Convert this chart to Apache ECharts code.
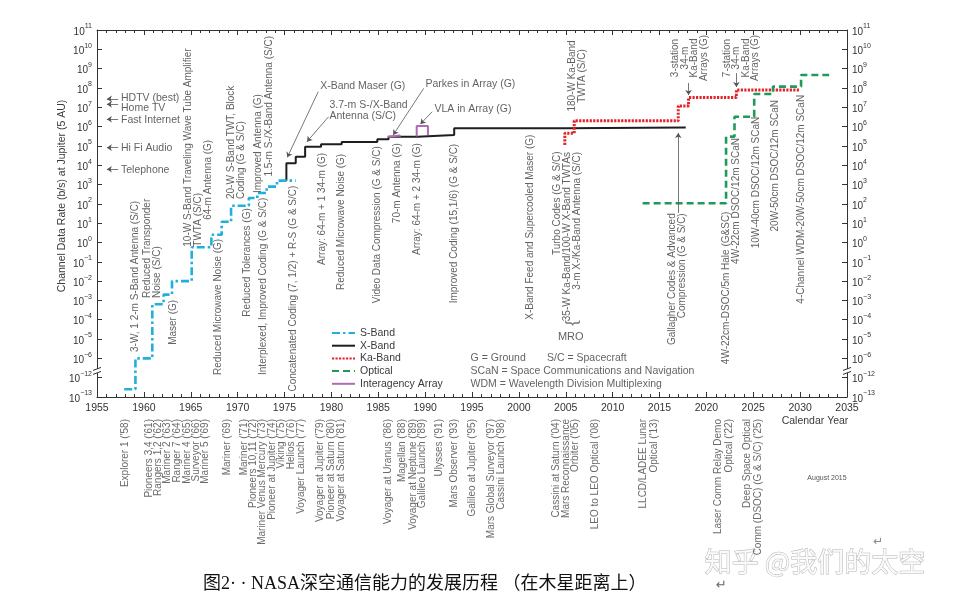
<!DOCTYPE html>
<html><head><meta charset="utf-8">
<script src="https://cdn.jsdelivr.net/npm/echarts@6/dist/echarts.min.js"></script>
<style>html,body{margin:0;padding:0;background:#fff;}#c{width:956px;height:601px;}</style>
</head><body><div id="c"></div>
<script>
// ---------- data (years, log10 of channel data rate in b/s) ----------
const sBandYears = [1957.9, 1959.1, 1960.9, 1962.1, 1963.0, 1965.1, 1967.2, 1968.3, 1969.3, 1971.2, 1972.1, 1973.1, 1974.2, 1976.2];
const sBandLog   = [-12.6, -6.0, -3.2, -2.7, -2.0, -0.25, 0.4, 1.07, 1.9, 2.3, 2.56, 2.89, 3.2, 3.2];
const xBandYears = [1975.2, 1975.2, 1976.2, 1977.2, 1978.9, 1981.1, 1984.9, 1986.1, 1989.2, 1993.1, 2005.0, 2017.8];
const xBandLog   = [3.2, 4.1, 4.44, 4.96, 5.08, 5.2, 5.35, 5.47, 5.56, 5.91, 5.95, 5.95];
const kaBandYears = [2004.9, 2004.9, 2005.9, 2017.0, 2018.1, 2023.2, 2029.9];
const kaBandLog   = [5.05, 5.65, 6.3, 7.07, 7.5, 7.9, 7.9];
const opticalYears = [2013.2, 2022.1, 2023.0, 2025.1, 2027.1, 2030.1, 2033.1];
const opticalLog   = [2.03, 5.48, 6.51, 7.69, 8.07, 8.67, 8.67];
const parkesYears = [1986.0, 1986.0, 1987.3, 1987.3];
const parkesLog   = [5.47, 5.54, 5.54, 5.47];
const vlaYears = [1989.1, 1989.1, 1990.3, 1990.3];
const vlaLog   = [5.49, 6.03, 6.03, 5.56];

const legendNames = ['S-Band', 'X-Band', 'Ka-Band', 'Optical', 'Interagency Array'];

// annotation texts with anchor (year, axis position)
const notesUp = [
  ['3-W, 1 2-m S-Band Antenna (S/C)', 1959.06, -5.67],
  ['Reduced Transponder\nNoise (S/C)', 1960.84, -2.87],
  ['Maser (G)', 1963.15, -5.30],
  ['10-W S-Band Traveling Wave Tube Amplifier\nTWTA (S/C)', 1965.29, -0.22],
  ['64-m Antenna (G)', 1966.9, 1.17],
  ['Reduced Microwave Noise (G)', 1967.96, -6.86],
  ['20-W S-Band TWT, Block\nCoding (G & S/C)', 1969.9, 2.25],
  ['Reduced Tolerances (G)', 1971.0, -3.84],
  ['Improved Antenna (G)', 1972.2, 2.56],
  ['Interplexed, Improved Coding (G & S/C)', 1972.77, -6.86],
  ['1.5-m S-/X-Band Antenna (S/C)', 1973.4, 3.41],
  ['Concatenated Coding (7, 1/2) + R-S (G & S/C)', 1975.97, -7.72],
  ['Array: 64-m + 1 34-m (G)', 1979.0, -1.16],
  ['Reduced Microwave Noise (G)', 1981.0, -2.46],
  ['Video Data Compression (G & S/C)', 1984.88, -3.15],
  ['70-m Antenna (G)', 1987.0, 1.0],
  ['Array: 64-m + 2 34-m (G)', 1989.15, -0.65],
  ['Improved Coding (15,1/6) (G & S/C)', 1993.06, -3.15],
  ['X-Band Feed and Supercooled Maser (G)', 2001.26, -4.0],
  ['Turbo Codes (G & S/C)', 2004.04, -0.65]
];
const notesDown = [
  ['35-W Ka-Band/100-W X-Band TWTAs\n3-m X-/Ka-Band Antenna (S/C)', 2005.7, 4.69],
  ['Gallagher Codes & Advanced\nCompression (G & S/C)', 2016.9, 1.51],
  ['4W-22cm-DSOC/5m Hale (G&SC)', 2022.1, 1.6],
  ['4W-22cm DSOC/12m SCaN', 2023.2, 5.41],
  ['10W-40cm DSOC/12m SCaN', 2025.3, 6.51],
  ['20W-50cm DSOC/12m SCaN', 2027.3, 7.38],
  ['4-Channel WDM-20W-50cm DSOC/12m SCaN', 2030.1, 7.64]
];
const notesMid = [
  ['180-W Ka-Band\nTWTA (S/C)', 2006.25, 8.62],
  ['3-station\n34-m\nKa-Band\nArrays (G)', 2018.2, 9.55],
  ['7-station\n34-m\nKa-Band\nArrays (G)', 2023.7, 9.55]
];
const notesFlat = [
  ['X-Band Maser (G)', 1978.8, 8.07],
  ['3.7-m S-/X-Band\nAntenna (S/C)', 1979.8, 6.81],
  ['Parkes in Array (G)', 1990.04, 8.19],
  ['VLA in Array (G)', 1991.0, 6.91],
  ['G = Ground', 1994.85, -6.01],
  ['S/C = Spacecraft', 2003.0, -6.01],
  ['SCaN = Space Communications and Navigation', 1994.85, -6.67],
  ['WDM = Wavelength Division Multiplexing', 1994.85, -7.32],
  ['HDTV (best)', 1957.56, 7.48],
  ['Home TV', 1957.56, 6.95],
  ['Fast Internet', 1957.56, 6.31],
  ['Hi Fi Audio', 1957.56, 4.88],
  ['Telephone', 1957.56, 3.75]
];
const leaders = [
  [[1978.6, 7.81], [1975.3, 4.41]],
  [[1979.7, 6.51], [1977.4, 5.22]],
  [[1989.85, 7.98], [1986.6, 5.57]],
  [[1990.75, 6.77], [1989.5, 6.13]],
  [[2018.1, 8.26], [2018.1, 7.64]],
  [[2023.2, 8.77], [2023.2, 8.05]],
  [[2017.0, 1.53], [2017.0, 5.67]],
  [[1957.25, 7.43], [1956.05, 7.43]],
  [[1957.25, 7.15], [1956.05, 7.15]],
  [[1957.25, 6.38], [1956.05, 6.38]],
  [[1957.25, 4.91], [1956.05, 4.91]],
  [[1957.25, 3.79], [1956.05, 3.79]]
];
const missions = [
  ["Explorer 1 ('58)", 1958.0], ["Pioneers 3,4 ('61)", 1960.6], ["Rangers 1,2 ('62)", 1961.55],
  ["Mariner 2 ('63)", 1962.5], ["Ranger 7 ('64)", 1963.55], ["Mariner 4 ('65)", 1964.6],
  ["Surveyor ('66)", 1965.55], ["Mariner 5 ('69)", 1966.5], ["Mariner ('69)", 1968.85],
  ["Mariner ('71)", 1970.7], ["Pioneers 10,11 ('72)", 1971.7], ["Mariner Venus Mercury ('73)", 1972.65],
  ["Pioneer at Jupiter ('74)", 1973.65], ["Viking ('75)", 1974.7], ["Helios ('76)", 1975.7],
  ["Voyager Launch ('77)", 1976.75], ["Voyager at Jupiter ('79)", 1978.8], ["Pioneer at Saturn ('80)", 1979.95],
  ["Voyager at Saturn ('81)", 1981.0], ["Voyager at Uranus ('86)", 1986.1], ["Magellan ('88)", 1987.6],
  ["Voyager at Neptune ('89)", 1988.7], ["Galileo Launch ('89)", 1989.7], ["Ulysses ('91)", 1991.55],
  ["Mars Observer ('93)", 1993.15], ["Galileo at Jupiter ('95)", 1995.0], ["Mars Global Surveyor ('97)", 1997.1],
  ["Cassini Launch ('98)", 1998.15], ["Cassini at Saturn ('04)", 2003.95], ["Mars Reconnaissance", 2005.0],
  ["Orbiter ('05)", 2006.05], ["LEO to LEO Optical ('08)", 2008.15], ["LLCD/LADEE Lunar", 2013.3],
  ["Optical ('13)", 2014.45], ["Laser Comm Relay Demo", 2021.3], ["Optical ('22)", 2022.45],
  ["Deep Space Optical", 2024.35], ["Comm (DSOC) (G & S/C) ('25)", 2025.5]
];

// ---------- helpers ----------
const FONT = '"Liberation Sans", Arial, Helvetica, sans-serif';
const TXT = '#3a3a3a';
// broken axis: 10^-12 and 10^-13 sit directly below 10^-6
function ax(e) { return e <= -12 ? e + 5 : e; }
function unAx(v) { return v <= -7 ? v - 5 : v; }
function pts(years, logs) { return years.map((y, i) => [y, ax(logs[i])]); }
function expLabel(v) {
  const e = Math.round(unAx(v));
  return '{b|10}{s|' + (e < 0 ? '\u2212' + (-e) : e) + '}';
}
const richExp = {
  b: { fontSize: 10, fontFamily: FONT, color: '#333', lineHeight: 14, verticalAlign: 'bottom' },
  s: { fontSize: 7, fontFamily: FONT, color: '#333', lineHeight: 6, verticalAlign: 'top' }
};
function noteSeries(list, label) {
  return {
    type: 'scatter', xAxisIndex: 0, yAxisIndex: 0, symbolSize: 1, silent: true, clip: false, z: 6,
    itemStyle: { color: 'transparent' }, emphasis: { disabled: true },
    data: list.map(n => ({ name: n[0], value: [n[1], n[2]] })),
    label: Object.assign({ show: true, position: 'inside', formatter: p => p.name,
      fontFamily: FONT, fontSize: 10, color: TXT, lineHeight: 10 }, label)
  };
}

const axisCommon = {
  type: 'value', min: 1955, max: 2035, interval: 5,
  axisLine: { show: true, onZero: false, lineStyle: { color: '#333', width: 1 } },
  axisTick: { show: true, inside: true, length: 5, lineStyle: { color: '#333' } },
  minorTick: { show: true, splitNumber: 5, length: 3, lineStyle: { color: '#333' } },
  splitLine: { show: false }, minorSplitLine: { show: false }
};
const yCommon = {
  type: 'value', min: -8, max: 11, interval: 1,
  axisLine: { show: true, onZero: false, lineStyle: { color: '#333', width: 1 } },
  axisTick: { show: true, inside: true, length: 5, lineStyle: { color: '#333' } },
  splitLine: { show: false },
  axisLabel: { formatter: expLabel, rich: richExp, margin: 5 }
};

const chart = echarts.init(document.getElementById('c'));
const option = {
  animation: false,
  backgroundColor: '#fff',
  grid: [
    { left: 97, top: 30, width: 750, height: 367 },
    { left: 97, top: 419, width: 750, height: 120 }
  ],
  xAxis: [
    Object.assign({}, axisCommon, { gridIndex: 0, position: 'bottom',
      axisLabel: { fontFamily: FONT, fontSize: 10.5, color: '#333', margin: 6, formatter: v => String(v) } }),
    Object.assign({}, axisCommon, { gridIndex: 0, position: 'top', axisLabel: { show: false } }),
    { type: 'value', gridIndex: 1, min: 1955, max: 2035, show: false }
  ],
  yAxis: [
    Object.assign({}, yCommon, { gridIndex: 0, position: 'left' }),
    Object.assign({}, yCommon, { gridIndex: 0, position: 'right' }),
    { type: 'value', gridIndex: 1, min: 0, max: 1, show: false }
  ],
  legend: {
    data: legendNames, orient: 'vertical', left: 331, top: 327, padding: 0,
    itemWidth: 23, itemHeight: 10, itemGap: 0.7, selectedMode: false,
    itemStyle: { opacity: 0 },
    textStyle: { fontFamily: FONT, fontSize: 10.5, color: TXT, lineHeight: 12 }
  },
  series: [
    { name: 'S-Band', type: 'line', step: 'end', symbol: 'none', data: pts(sBandYears, sBandLog), z: 4,
      lineStyle: { color: '#1fb0dc', width: 2.6, type: [8, 3, 2.5, 3] }, itemStyle: { color: '#1fb0dc' } },
    { name: 'X-Band', type: 'line', step: 'end', symbol: 'none', data: pts(xBandYears, xBandLog), z: 3,
      lineStyle: { color: '#1e1e1e', width: 2 }, itemStyle: { color: '#1e1e1e' } },
    { name: 'Ka-Band', type: 'line', step: 'end', symbol: 'none', data: pts(kaBandYears, kaBandLog), z: 4,
      lineStyle: { color: '#e3242b', width: 3, type: [2.2, 1.3] }, itemStyle: { color: '#e3242b' } },
    { name: 'Optical', type: 'line', step: 'end', symbol: 'none', data: pts(opticalYears, opticalLog), z: 4,
      lineStyle: { color: '#1f9a5c', width: 2.6, type: [7, 4] }, itemStyle: { color: '#1f9a5c' } },
    { name: 'Interagency Array', type: 'line', symbol: 'none', data: pts(parkesYears, parkesLog), z: 5,
      lineStyle: { color: '#b06ab6', width: 2 }, itemStyle: { color: '#b06ab6' } },
    { name: 'Interagency Array', type: 'line', symbol: 'none', data: pts(vlaYears, vlaLog), z: 5,
      lineStyle: { color: '#b06ab6', width: 2 }, itemStyle: { color: '#b06ab6' } },
    { type: 'lines', coordinateSystem: 'cartesian2d', xAxisIndex: 0, yAxisIndex: 0, silent: true, z: 5,
      symbol: ['none', 'arrow'], symbolSize: 5,
      lineStyle: { color: '#555', width: 0.8, opacity: 1 },
      data: leaders.map(c => ({ coords: c })) },
    noteSeries(notesUp, { rotate: 90, align: 'left', verticalAlign: 'middle' }),
    noteSeries(notesDown, { rotate: 90, align: 'right', verticalAlign: 'middle' }),
    noteSeries(notesMid, { rotate: 90, align: 'center', verticalAlign: 'middle', lineHeight: 9.5 }),
    noteSeries(notesFlat, { align: 'left', verticalAlign: 'middle', fontSize: 10.5, lineHeight: 11 }),
    noteSeries([['{', 2005.72, -4.17]], { rotate: 90, align: 'center', verticalAlign: 'middle', fontSize: 17, color: '#555', lineHeight: 17 }),
    noteSeries([['MRO', 2005.53, -4.89]], { align: 'center', verticalAlign: 'middle', fontSize: 11 }),
    { type: 'scatter', xAxisIndex: 2, yAxisIndex: 2, symbolSize: 1, silent: true, clip: false,
      itemStyle: { color: 'transparent' }, emphasis: { disabled: true },
      data: missions.map(m => ({ name: m[0], value: [m[1], 1] })),
      label: { show: true, position: 'inside', formatter: p => p.name, rotate: 90, align: 'right',
        verticalAlign: 'middle', fontFamily: FONT, fontSize: 10, color: '#444' } }
  ],
  graphic: [
    { type: 'text', x: 62, y: 196, rotation: Math.PI / 2,
      style: { text: 'Channel Data Rate (b/s) at Jupiter (5 AU)', fontFamily: FONT, fontSize: 10.5,
        fill: TXT, align: 'center', verticalAlign: 'middle' } },
    { type: 'text', x: 815, y: 421,
      style: { text: 'Calendar Year', fontFamily: FONT, fontSize: 10.5, fill: TXT, align: 'center', verticalAlign: 'middle' } },
    { type: 'text', x: 827, y: 478,
      style: { text: 'August 2015', fontFamily: FONT, fontSize: 7, fill: '#555', align: 'center', verticalAlign: 'middle' } },
    { type: 'text', x: 203, y: 584,
      style: { text: '图2· · NASA深空通信能力的发展历程 （在木星距离上）', fontFamily: '"Liberation Serif", "Noto Sans CJK SC", serif',
        fontSize: 18, fill: '#111', align: 'left', verticalAlign: 'middle' } },
    { type: 'text', x: 716, y: 586,
      style: { text: '↵', fontFamily: '"DejaVu Sans", sans-serif', fontSize: 13, fill: '#666', align: 'left', verticalAlign: 'middle' } },
    { type: 'text', x: 815, y: 562,
      style: { text: '知乎 @我们的太空', fontFamily: '"Noto Sans CJK SC", sans-serif', fontSize: 27,
        fill: '#fafafa', stroke: '#b5b5b5', lineWidth: 1, align: 'center', verticalAlign: 'middle' } },
    { type: 'text', x: 878, y: 542,
      style: { text: '↵', fontFamily: '"DejaVu Sans", sans-serif', fontSize: 12, fill: '#888', align: 'center', verticalAlign: 'middle' } }
  ]
};
chart.setOption(option);

// axis-break marks on both vertical axes, placed through the axis scale
const brk = [];
[1955, 2035].forEach(yr => {
  const p = chart.convertToPixel({ xAxisIndex: 0, yAxisIndex: 0 }, [yr, -6.65]);
  brk.push({ type: 'rect', shape: { x: p[0] - 4, y: p[1] - 2, width: 8, height: 4 }, style: { fill: '#fff' }, z: 100 });
  brk.push({ type: 'line', shape: { x1: p[0] - 4, y1: p[1] - 0.5, x2: p[0] + 4, y2: p[1] - 3.5 }, style: { stroke: '#333', lineWidth: 1 }, z: 101 });
  brk.push({ type: 'line', shape: { x1: p[0] - 4, y1: p[1] + 3.5, x2: p[0] + 4, y2: p[1] + 0.5 }, style: { stroke: '#333', lineWidth: 1 }, z: 101 });
});
chart.setOption({ graphic: option.graphic.concat(brk) });
</script>
</body></html>
